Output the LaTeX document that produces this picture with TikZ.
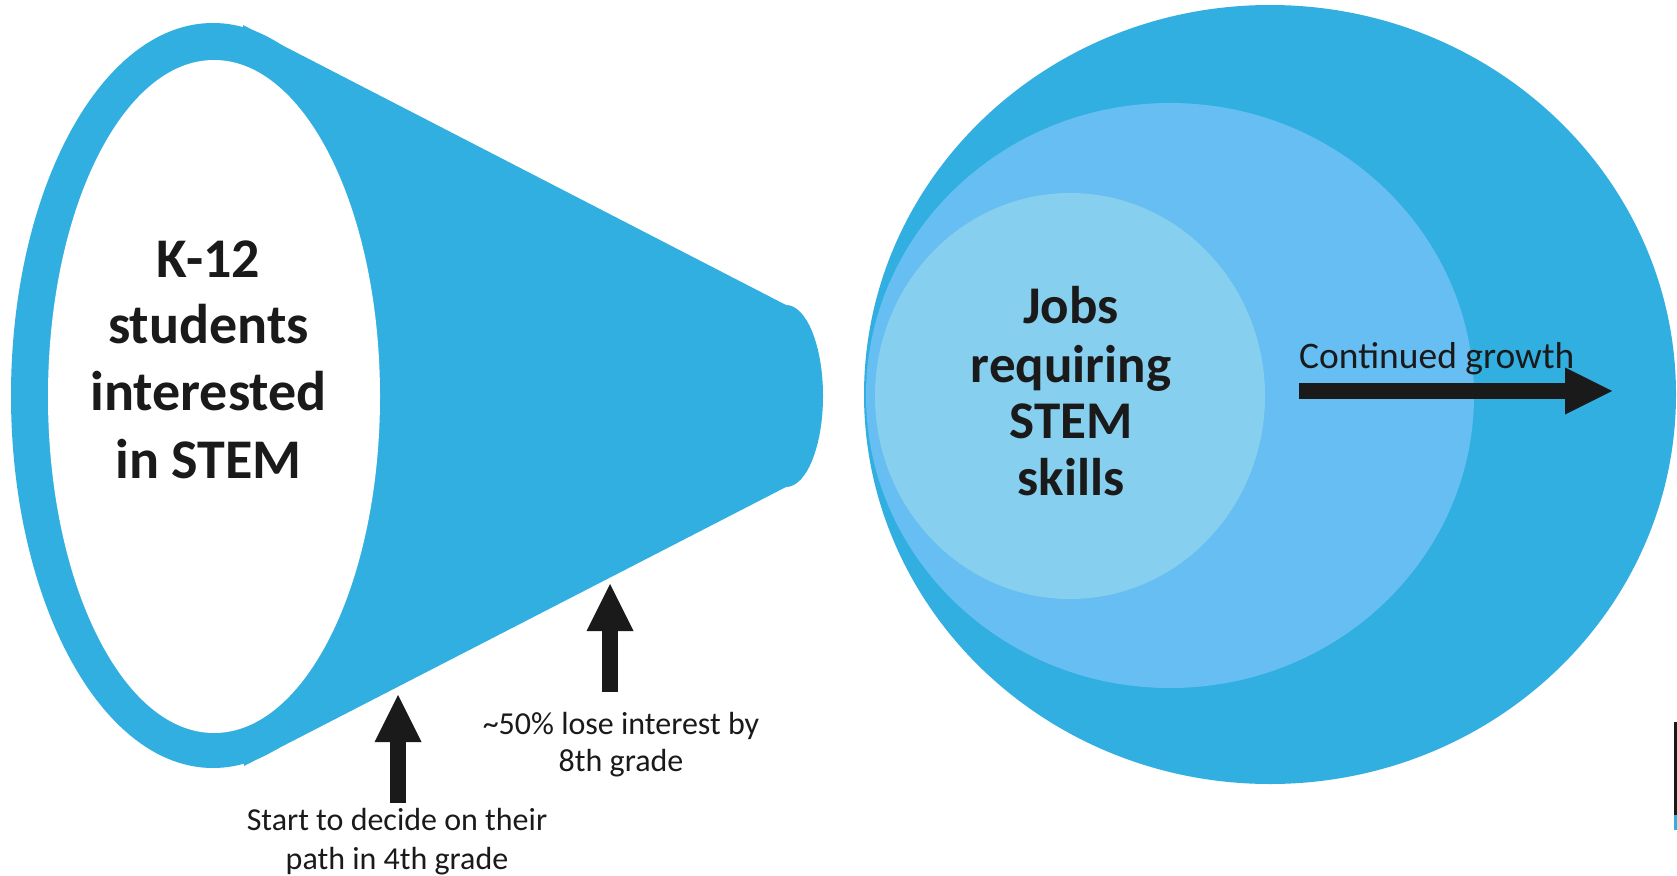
\documentclass[tikz,border=0pt]{standalone}
\usepackage{fontspec}
\setmainfont{Carlito}
\usetikzlibrary{arrows.meta}
\definecolor{coneblue}{HTML}{32AFE1}
\definecolor{midblue}{HTML}{66BEF2}
\definecolor{lightblue}{HTML}{87CFEE}
\definecolor{ink}{HTML}{1A1A1A}
\begin{document}
\begin{tikzpicture}[x=1pt,y=-1pt,
  bigtext/.style={font=\fontsize{56}{67}\selectfont\bfseries, text=ink, inner sep=0pt, anchor=base},
  jobtext/.style={font=\fontsize{53}{60}\selectfont\bfseries, text=ink, inner sep=0pt, anchor=base},
  smalltext/.style={font=\fontsize{32}{38}\selectfont, text=ink, inner sep=0pt, anchor=base},
  growtext/.style={font=\fontsize{37.5}{44}\selectfont, text=ink, inner sep=0pt, anchor=base west},
  blockarrow/.style={draw=ink, line width=16pt, line cap=butt,
    -{Triangle[length=47pt,width=47pt,line width=0pt]}}]
\useasboundingbox (0,0) rectangle (1677,875);
\fill[white] (0,0) rectangle (1677,875);

% cone (megaphone)
\fill[coneblue] (213,395.5) ellipse [x radius=202pt, y radius=372.5pt];
\fill[coneblue] (243,25) -- (786,305) -- (786,487) -- (244,766) -- cycle;
\fill[coneblue] (786,396) ellipse [x radius=37pt, y radius=91pt];
\fill[white] (214,396.5) ellipse [x radius=166pt, y radius=336.5pt];

% nested ellipses
\fill[coneblue] (1270,394.5) ellipse [x radius=406pt, y radius=389.5pt];
\fill[midblue] (1170,395.5) ellipse [x radius=304pt, y radius=292.5pt];
\fill[lightblue] (1070,396) ellipse [x radius=195pt, y radius=203pt];

% cropped fragment at right edge
\fill[ink] (1674,722) rectangle (1677,815);
\fill[coneblue] (1674,815) rectangle (1677,830);

% left text
\node[bigtext] (k1) at (208.5,277) {K-12};
\node[bigtext] (k2) at (208.5,343) {students};
\node[bigtext] (k3) at (208.5,410) {interested};
\node[bigtext] (k4) at (208.5,478) {in STEM};

% right text
\node[jobtext] (j1) at (1071,323) {Jobs};
\node[jobtext] (j2) at (1071,382) {requiring};
\node[jobtext] (j3) at (1071,438) {STEM};
\node[jobtext] (j4) at (1071,495) {skills};

\node[growtext] (grow) at (1299,368) {Continued growth};

% bottom labels
\node[smalltext] (f1) at (621,734) {\textasciitilde 50\% lose interest by};
\node[smalltext] (f2) at (621,771) {8th grade};
\node[smalltext] (s1) at (397,830) {Start to decide on their};
\node[smalltext] (s2) at (397,869) {path in 4th grade};

% arrows
\coordinate (a1s) at (398,803);
\coordinate (a1e) at (398,695);
\coordinate (a2s) at (610,692);
\coordinate (a2e) at (610,584);
\coordinate (a3s) at (1299,391);
\coordinate (a3e) at (1612,391);
\draw[blockarrow] (a1s) -- (a1e);
\draw[blockarrow] (a2s) -- (a2e);
\draw[blockarrow] (a3s) -- (a3e);
\end{tikzpicture}
\end{document}
